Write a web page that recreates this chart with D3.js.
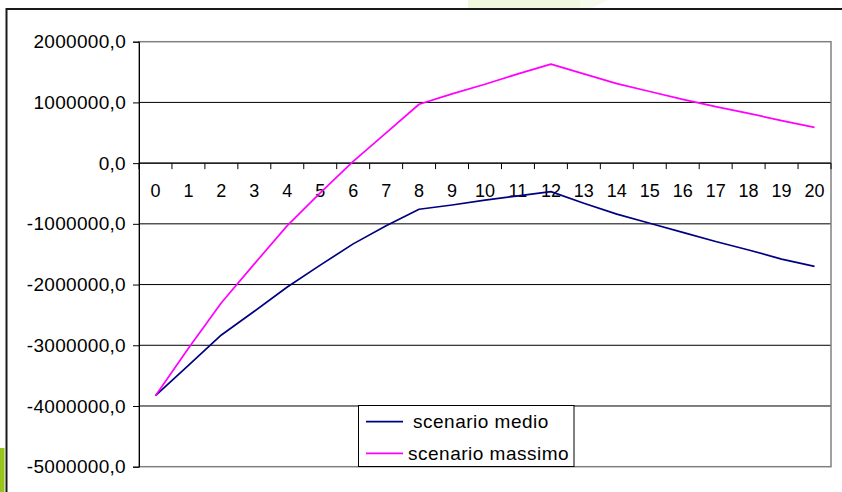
<!DOCTYPE html>
<html>
<head>
<meta charset="utf-8">
<script src="https://cdn.jsdelivr.net/npm/d3@7"></script>
<style>
  html, body { margin: 0; padding: 0; background: #fff; }
  svg { display: block; font-family: "Liberation Sans", Arial, sans-serif; }
</style>
</head>
<body>
<svg id="chart" width="842" height="492"></svg>
<script>
// Categories (years 0..20)
const years = ["0","1","2","3","4","5","6","7","8","9","10","11","12","13","14","15","16","17","18","19","20"];

// Cumulative cash flow, average scenario
const scenarioMedio = [-3830000, -3330000, -2830000, -2440000, -2040000, -1680000, -1330000, -1030000, -760000, -690000,
  -610000, -540000, -470000, -660000, -840000, -990000, -1140000, -1290000, -1430000, -1580000, -1700000];

// Cumulative cash flow, maximum scenario
const scenarioMassimo = [-3830000, -3050000, -2300000, -1660000, -1030000, -490000, 30000, 500000, 970000, 1140000,
  1300000, 1470000, 1630000, 1470000, 1310000, 1180000, 1050000, 930000, 820000, 700000, 590000];

const yTicks = [2000000, 1000000, 0, -1000000, -2000000, -3000000, -4000000, -5000000];

const seriesNames = ["scenario medio", "scenario massimo"];
const seriesColors = ["#000080", "#ff00ff"];

const svg = d3.select("#chart");

// decorative slide background pieces
svg.append("rect").attr("x", 0).attr("y", 448).attr("width", 4.5).attr("height", 44).attr("fill", "#98c51c");
svg.append("path").attr("d", "M468,0 L580,0 L580,8 L468,8 Z").attr("fill", "#f1f8df");
svg.append("path").attr("d", "M580,0 L608,0 L592,8 L580,8 Z").attr("fill", "#f7fbec");

// outer chart frame
svg.append("path").attr("d", "M6.5,492 L6.5,9 L842,9").attr("fill", "none")
  .attr("stroke", "#1a1a1a").attr("stroke-width", 2);

const plotLeft = 139, plotRight = 831, plotTop = 41.7, plotBottom = 466.7;

const x = d3.scaleBand().domain(years).range([plotLeft, plotRight]);
const y = d3.scaleLinear().domain([-5000000, 2000000]).range([plotBottom, plotTop]);

// Italian style: comma decimal separator, plain hyphen minus
const fmt = v => d3.format(".1f")(v).replace(".", ",").replace("\u2212", "-");

// horizontal gridlines
svg.append("g").selectAll("line").data(yTicks.filter(v => v !== 2000000 && v !== -5000000))
  .join("line")
  .attr("x1", plotLeft).attr("x2", plotRight)
  .attr("y1", d => y(d)).attr("y2", d => y(d))
  .attr("stroke", "#000").attr("stroke-width", 1);

// plot area border
svg.append("rect").attr("x", plotLeft).attr("y", plotTop)
  .attr("width", plotRight - plotLeft).attr("height", plotBottom - plotTop)
  .attr("fill", "none").attr("stroke", "#808080").attr("stroke-width", 1.5);

// y axis
const yAxis = d3.axisLeft(y).tickValues(yTicks).tickFormat(fmt).tickSize(6).tickPadding(7);
const gy = svg.append("g").attr("transform", `translate(${plotLeft},0)`).call(yAxis);
gy.select(".domain").attr("stroke", "#000");
gy.selectAll(".tick line").attr("stroke", "#000");
gy.selectAll(".tick text").attr("font-size", "19px").attr("fill", "#000")
  .attr("letter-spacing", "0.3px")
  .attr("font-family", "Liberation Sans, Arial, sans-serif");

// x axis along zero, ticks between categories
const gx = svg.append("g").attr("transform", `translate(0,${y(0)})`);
gx.append("line").attr("x1", plotLeft).attr("x2", plotRight).attr("y1", 0).attr("y2", 0).attr("stroke", "#000");
const bounds = d3.range(years.length + 1).map(i => plotLeft + i * x.step());
gx.selectAll("line.tk").data(bounds).join("line").attr("class", "tk")
  .attr("x1", d => d).attr("x2", d => d).attr("y1", 0).attr("y2", 6).attr("stroke", "#000");
gx.selectAll("text").data(years).join("text")
  .attr("x", d => x(d) + x.bandwidth() / 2)
  .attr("y", 34)
  .attr("text-anchor", "middle")
  .attr("font-size", "18px")
  .attr("fill", "#000")
  .text(d => d);

// series lines
const line = d3.line().x((d, i) => x(years[i]) + x.bandwidth() / 2).y(d => y(d));
[scenarioMedio, scenarioMassimo].forEach((s, i) => {
  svg.append("path").datum(s).attr("d", line)
    .attr("fill", "none").attr("stroke", seriesColors[i]).attr("stroke-width", 1.7)
    .attr("stroke-linejoin", "round");
});

// legend
const lg = svg.append("g");
lg.append("rect").attr("x", 358.5).attr("y", 405.5).attr("width", 215.5).attr("height", 61)
  .attr("fill", "#fff").attr("stroke", "#000").attr("stroke-width", 1);
const textX = [413, 408];
seriesNames.forEach((n, i) => {
  const ly = 421.7 + i * 31.6;
  lg.append("line").attr("x1", 366).attr("x2", 403).attr("y1", ly).attr("y2", ly)
    .attr("stroke", seriesColors[i]).attr("stroke-width", 1.8);
  lg.append("text").attr("x", textX[i]).attr("y", ly).attr("dy", "0.35em")
    .attr("font-size", "19px").attr("letter-spacing", "0.5px").attr("fill", "#000").text(n);
});
</script>
</body>
</html>
